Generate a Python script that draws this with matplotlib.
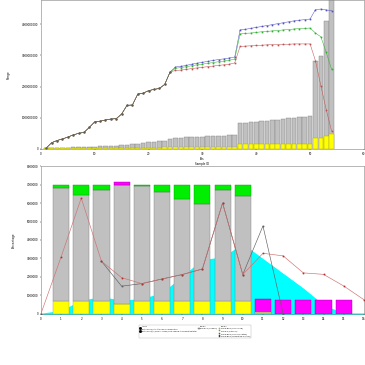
import numpy as np
import matplotlib
matplotlib.use('Agg')
import matplotlib.pyplot as plt
from matplotlib.patches import Patch
from matplotlib.lines import Line2D

plt.rcParams['font.family'] = ['DejaVu Sans']

# ---------- top chart data (units of 1e9) ----------
samples = list(range(1, 55))
grey_top = [0.02, 0.03, 0.03, 0.04, 0.04, 0.05, 0.05, 0.06, 0.06, 0.07, 0.08, 0.08,
            0.09, 0.10, 0.11, 0.12, 0.15, 0.17, 0.19, 0.21, 0.22, 0.24, 0.27,
            0.33, 0.35, 0.36, 0.37, 0.38, 0.38, 0.39, 0.40, 0.41, 0.42, 0.43, 0.45, 0.46,
            0.82, 0.84, 0.86, 0.88, 0.89, 0.90, 0.92, 0.94, 0.96, 0.98, 1.00, 1.02, 1.04, 1.06,
            2.82, 2.98, 4.11, 5.50]
yellow_top = [0.03] * 22 + [0.07] * 14 + [0.15] * 14 + [0.34, 0.34, 0.42, 0.47]

common = [0.03, 0.20, 0.27, 0.32, 0.38, 0.45, 0.50, 0.53, 0.69, 0.87, 0.89, 0.93,
          0.96, 0.97, 1.12, 1.40, 1.41, 1.76, 1.79, 1.87, 1.91, 1.94, 2.07, 2.47]
red_tail = [2.52, 2.53, 2.55, 2.58, 2.60, 2.62, 2.64, 2.66, 2.68, 2.70, 2.72, 2.76,
            3.29, 3.30, 3.31, 3.32, 3.33, 3.34, 3.35, 3.35, 3.36, 3.36, 3.37, 3.37, 3.37, 3.37,
            2.83, 2.03, 1.26, 0.57]
green_tail = [2.59, 2.61, 2.64, 2.67, 2.70, 2.72, 2.75, 2.77, 2.80, 2.82, 2.85, 2.88,
              3.69, 3.71, 3.72, 3.74, 3.76, 3.77, 3.79, 3.80, 3.82, 3.83, 3.85, 3.86, 3.87, 3.88,
              3.72, 3.60, 3.10, 2.55]
blue_tail = [2.63, 2.65, 2.68, 2.72, 2.75, 2.78, 2.81, 2.84, 2.87, 2.89, 2.92, 2.95,
             3.82, 3.84, 3.87, 3.90, 3.93, 3.96, 3.99, 4.02, 4.05, 4.08, 4.11, 4.13, 4.15, 4.17,
             4.47, 4.49, 4.46, 4.44]

# ---------- bottom chart data ----------
groups = list(range(1, 11))
yellow_b = [0.72, 0.72, 0.72, 0.56, 0.72, 0.72, 0.72, 0.72, 0.72, 0.72]
grey_b_top = [6.80, 6.43, 6.70, 6.95, 6.92, 6.58, 6.22, 5.96, 6.70, 6.38]
green_b_top = [7.0, 7.0, 7.0, 0, 7.0, 7.0, 7.0, 7.0, 7.0, 7.0]
magenta_b4 = 0.19
extra = [11, 12, 13, 14, 15]
magenta_b = [0.83, 0.74, 0.74, 0.74, 0.74]
tan_b = [0.12, 0, 0, 0, 0]

positions = list(range(0, 17))
cyan_area = [0, 0.15, 0.70, 0.90, 0.70, 0.80, 1.10, 2.00, 2.90, 3.05, 3.75,
             2.95, 2.15, 1.35, 0.45, 0, 0]
red_line = [0, 3.08, 6.27, 2.85, 1.96, 1.64, 1.89, 2.13, 2.43, 6.00, 2.13,
            3.28, 3.14, 2.22, 2.14, 1.51, 0.77]
dark_x = list(range(3, 13))
dark_line = [2.85, 1.50, 1.64, 1.89, 2.13, 2.43, 6.00, 2.13, 4.76, 0.0]

fig = plt.figure(figsize=(3.65, 3.65), dpi=100)

mk = dict(marker='s', ms=0.9, mew=0.2)

# ===== top chart =====
ax1 = fig.add_axes([0.112, 0.592, 0.885, 0.408])
ax1.bar(samples, grey_top, width=0.85, color='#c0c0c0', edgecolor='#808080', linewidth=0.3)
ax1.bar(samples, yellow_top, width=0.85, color='#ffff00', edgecolor='#a0a040', linewidth=0.3)

red = common + red_tail
green = common + green_tail
blue = common + blue_tail
ax1.plot(samples, blue, color='#5050c0', lw=0.35, **mk)
ax1.plot(samples, green, color='#30b030', lw=0.35, **mk)
ax1.plot(samples, red, color='#c05050', lw=0.35, **mk)
ax1.plot(samples[:24], common, color='#606050', lw=0.3, **mk)

ax1.set_xlim(0, 60)
ax1.set_ylim(0, 4.78)
ax1.set_xticks(range(0, 61, 10))
ax1.set_yticks(range(0, 5))
ax1.set_yticklabels(['%d' % (v * 1000000000) for v in range(0, 5)])
ax1.set_xlabel('Pos\nSample ID', fontsize=2, labelpad=1)
ax1.set_ylabel('Range', fontsize=2, labelpad=8)
ax1.tick_params(labelsize=2, length=1, width=0.3, pad=1)
for s in ax1.spines.values():
    s.set_linewidth(0.4)
    s.set_color('#808080')

# ===== bottom chart =====
ax2 = fig.add_axes([0.112, 0.140, 0.885, 0.405])
ax2.fill_between(positions, cyan_area, color='#00ffff', zorder=1)

grey_h = [g - y for g, y in zip(grey_b_top, yellow_b)]
green_h = [max(t - g, 0) for t, g in zip(green_b_top, grey_b_top)]
ax2.bar(groups, yellow_b, width=0.8, color='#ffff00', edgecolor='#a0a040', linewidth=0.3, zorder=2)
ax2.bar(groups, grey_h, width=0.8, bottom=yellow_b, color='#c0c0c0', edgecolor='#808080', linewidth=0.3, zorder=2)
ax2.bar(groups, green_h, width=0.8, bottom=grey_b_top, color='#00ee00', edgecolor='#00a000', linewidth=0.3, zorder=2)
ax2.bar([4], [magenta_b4], width=0.8, bottom=[grey_b_top[3]], color='#ff00ff', edgecolor='#a000a0', linewidth=0.3, zorder=2)
ax2.bar(extra, magenta_b, width=0.8, color='#ff00ff', edgecolor='#a000a0', linewidth=0.3, zorder=2)
ax2.bar(extra, tan_b, width=0.8, color='#c8b070', linewidth=0, zorder=2)

ax2.plot(dark_x, dark_line, color='#606060', lw=0.45, zorder=3, **mk)
ax2.plot(positions, red_line, color='#d07070', lw=0.45, mfc='#b03030', mec='#b03030', zorder=4, **mk)

ax2.set_xlim(0, 16)
ax2.set_ylim(0, 8)
ax2.set_xticks(range(0, 17))
ax2.set_yticks(range(0, 9))
ax2.set_yticklabels(['%d' % (v * 1000000) for v in range(0, 9)])
ax2.set_ylabel('Percentage', fontsize=2, labelpad=8)
ax2.tick_params(labelsize=2, length=1, width=0.3, pad=1)
for s in ax2.spines.values():
    s.set_linewidth(0.4)
    s.set_color('#808080')

# legend below the bottom chart, three columns with headers
blank = Line2D([], [], color='none')
handles = [blank,
           Line2D([], [], color='black', marker='s', ms=1.0, lw=0),
           Line2D([], [], color='black', marker='s', ms=1.0, lw=0),
           blank, blank,
           blank,
           Patch(facecolor='#c0c0c0', edgecolor='#606060', linewidth=0.3),
           blank, blank, blank,
           blank,
           Patch(facecolor='#ffff80', edgecolor='#808040', linewidth=0.3),
           Patch(facecolor='#80ff80', edgecolor='#408040', linewidth=0.3),
           Patch(facecolor='#a0a0a0', edgecolor='#404040', linewidth=0.3),
           Patch(facecolor='#606060', edgecolor='#202020', linewidth=0.3)]
labels = ['Axis 1',
          'Ratio of ag_hi to total read in proportion',
          'Ratio of ag_hi (sum of reads) from Sample to cumulative total',
          '', '',
          'Groups', 'Groups 1 (% reads)', '', '', '',
          'Groups', 'Group Bars (% of yellow)', 'Group 2 (green %)',
          'Group Bars (% of cumulative)', 'Group Bars (cumulative % reads)']
leg = fig.legend(handles, labels, ncol=3, loc='upper left', bbox_to_anchor=(0.378, 0.112),
                 fontsize=1.3, frameon=True, fancybox=False, handlelength=0.8, handleheight=0.6,
                 handletextpad=0.4, columnspacing=1.0, labelspacing=0.45, borderpad=0.4)
leg.get_frame().set_linewidth(0.3)
leg.get_frame().set_edgecolor('#a0a0a0')

plt.savefig('out.png', dpi=100)
